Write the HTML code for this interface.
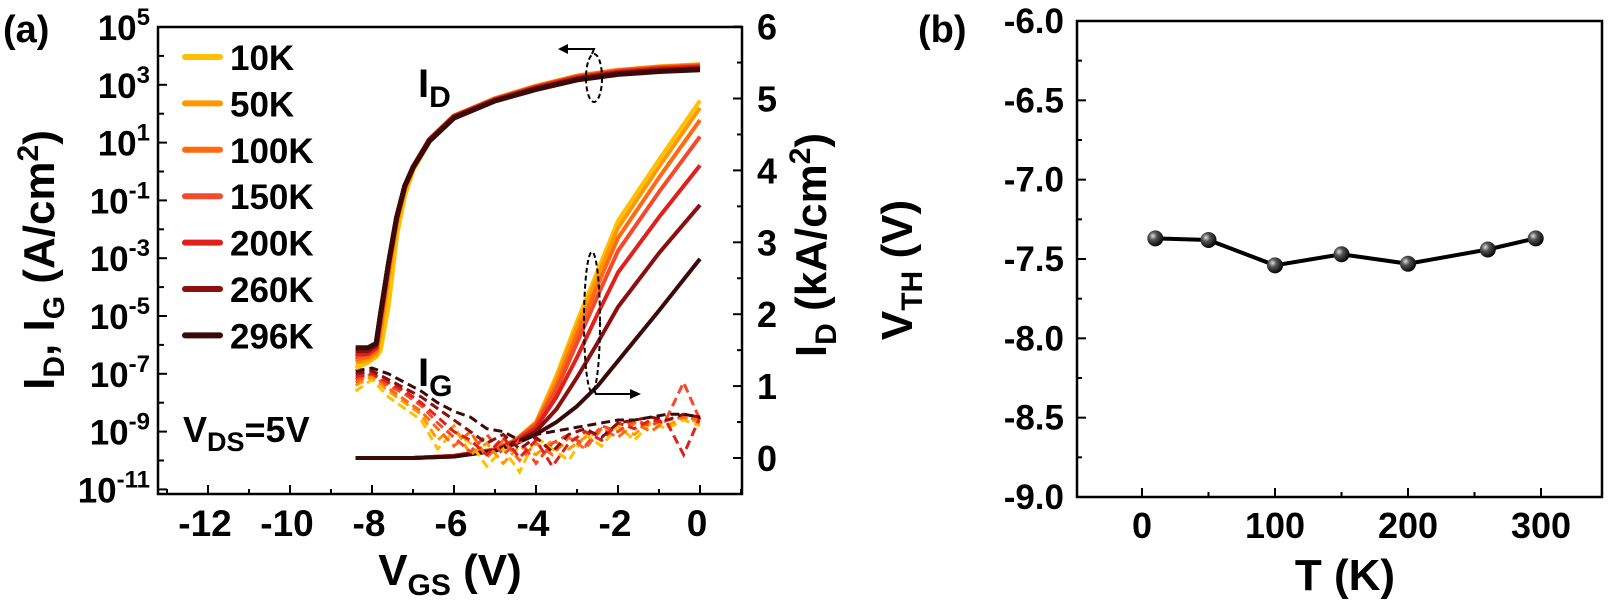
<!DOCTYPE html>
<html><head><meta charset="utf-8"><style>
html,body{margin:0;padding:0;background:#fff;}
svg{display:block;font-family:"Liberation Sans",Arial,sans-serif;font-weight:bold;}
</style></head><body>
<svg id="fig" width="1613" height="611" viewBox="0 0 1613 611" xmlns="http://www.w3.org/2000/svg">
<g id="pa"></g>
<g id="pb"></g>
</svg>
<script>
// ---------- Panel (a) data ----------
const temps = ["10K","50K","100K","150K","200K","260K","296K"];
const colors = ["#FFC000","#FF9800","#FF6A10","#F24A2A","#E0201A","#8B0F0F","#3A0A0A"];
const xTicksA = [-12,-10,-8,-6,-4,-2,0];
const yLogTicks = [5,3,1,-1,-3,-5,-7,-9,-11];
const yLinTicks = [0,1,2,3,4,5,6];
const idLogV = [-8.4,-8.1,-7.9,-7.8,-7.6,-7.4,-7.2,-7.0,-6.6,-6.0,-5.0,-4.0,-3.0,-2.0,-1.0,0];
const idLog10K  = [-6.8,-6.6,-6.4,-6.2,-4.6,-2.2,-0.8,0.05,1.05,1.9,2.52,2.95,3.3,3.5,3.62,3.7];
const idLog50K  = [-6.6,-6.5,-6.3,-5.6,-3.6,-1.8,-0.6,0.1,1.1,1.92,2.52,2.95,3.3,3.5,3.61,3.68];
const idLog100K = [-6.5,-6.4,-6.2,-5.3,-3.4,-1.7,-0.55,0.12,1.1,1.92,2.5,2.93,3.28,3.48,3.6,3.66];
const idLog150K = [-6.4,-6.3,-6.1,-5.2,-3.3,-1.6,-0.5,0.15,1.1,1.9,2.5,2.92,3.26,3.46,3.57,3.64];
const idLog200K = [-6.3,-6.3,-6.1,-5.1,-3.2,-1.6,-0.5,0.15,1.1,1.9,2.48,2.9,3.24,3.44,3.55,3.61];
const idLog260K = [-6.2,-6.2,-6.0,-5.0,-3.2,-1.6,-0.5,0.14,1.08,1.88,2.46,2.87,3.2,3.4,3.5,3.56];
const idLog296K = [-6.1,-6.1,-5.95,-5.0,-3.2,-1.6,-0.5,0.13,1.05,1.85,2.44,2.84,3.17,3.36,3.46,3.52];
const idLog = [idLog10K,idLog50K,idLog100K,idLog150K,idLog200K,idLog260K,idLog296K];
const idLinV = [-8.4,-7,-6,-5,-4.5,-4,-3.5,-3,-2.5,-2,-1,0];
const idLin10K  = [0,0,0.03,0.12,0.25,0.5,1.15,1.9,2.6,3.3,4.15,4.97];
const idLin50K  = [0,0,0.03,0.12,0.25,0.49,1.1,1.83,2.52,3.2,4.05,4.87];
const idLin100K = [0,0,0.03,0.12,0.25,0.48,1.02,1.72,2.4,3.06,3.9,4.7];
const idLin150K = [0,0,0.03,0.12,0.24,0.46,0.95,1.6,2.25,2.88,3.7,4.47];
const idLin200K = [0,0,0.03,0.11,0.23,0.42,0.85,1.4,2.0,2.58,3.35,4.07];
const idLin260K = [0,0,0.02,0.1,0.21,0.37,0.68,1.12,1.6,2.1,2.85,3.52];
const idLin296K = [0,0,0.02,0.1,0.2,0.33,0.5,0.72,1.0,1.35,2.05,2.77];
const idLin = [idLin10K,idLin50K,idLin100K,idLin150K,idLin200K,idLin260K,idLin296K];
const igV = [-8.4,-8.0,-7.6,-7.2,-6.8,-6.4,-6.0,-5.6,-5.2,-4.8,-4.4,-4.0,-3.6,-3.2,-2.8,-2.4,-2.0,-1.6,-1.2,-0.8,-0.4,0];
const ig10K  = [-7.6,-7.2,-7.8,-8.2,-8.6,-9.6,-9.0,-9.4,-10.2,-9.6,-10.4,-9.2,-9.6,-10.0,-9.1,-9.5,-8.8,-9.3,-8.7,-8.9,-8.6,-8.8];
const ig50K  = [-7.4,-7.1,-7.6,-8.0,-8.4,-9.3,-8.8,-9.8,-9.4,-10.1,-9.5,-9.8,-9.3,-9.6,-9.2,-9.0,-8.9,-9.1,-8.6,-8.8,-8.5,-8.7];
const ig100K = [-7.3,-7.0,-7.5,-7.9,-8.3,-8.9,-9.5,-9.0,-9.9,-9.3,-10.0,-9.4,-9.8,-9.2,-9.6,-8.9,-9.2,-8.7,-9.0,-8.6,-8.5,-8.6];
const ig150K = [-7.2,-7.0,-7.4,-7.7,-8.1,-8.7,-9.2,-9.7,-9.1,-9.8,-9.3,-10.1,-9.4,-9.1,-9.5,-8.8,-9.0,-8.6,-8.8,-8.5,-7.3,-8.6];
const ig200K = [-7.1,-7.0,-7.3,-7.6,-8.0,-8.5,-9.0,-9.3,-9.8,-9.2,-9.9,-9.3,-10.2,-9.4,-9.0,-9.3,-8.7,-8.9,-8.6,-8.7,-9.8,-8.5];
const ig260K = [-7.0,-6.9,-7.2,-7.5,-7.8,-8.2,-8.6,-9.0,-9.4,-9.1,-9.6,-9.2,-9.7,-9.1,-8.9,-9.2,-8.7,-8.6,-8.5,-8.6,-8.4,-8.5];
const ig296K = [-6.9,-6.8,-7.0,-7.3,-7.6,-8.0,-8.3,-8.5,-8.9,-9.0,-9.3,-9.1,-9.0,-8.9,-8.8,-8.7,-8.6,-8.6,-8.5,-8.4,-8.4,-8.5];
const ig = [ig10K,ig50K,ig100K,ig150K,ig200K,ig260K,ig296K];
// ---------- Panel (b) data ----------
const tK = [10,50,100,150,200,260,296];
const vth = [-7.37,-7.38,-7.54,-7.47,-7.53,-7.44,-7.37];
const xTicksB = [0,100,200,300];
const yTicksB = [-6.0,-6.5,-7.0,-7.5,-8.0,-8.5,-9.0];

const NS="http://www.w3.org/2000/svg";
function mk(parent,tag,attrs){const e=document.createElementNS(NS,tag);for(const k in attrs)e.setAttribute(k,attrs[k]);parent.appendChild(e);return e;}
function txt(parent,x,y,s,size,anchor){const t=mk(parent,"text",{x:x,y:y,"font-size":size,"text-anchor":anchor||"middle"});t.textContent=s;return t;}

// ---------- Panel (a) ----------
const pa=document.getElementById("pa");
const A={l:158,r:742,t:27,b:494};
const xA=v=>700+v*41;
const yLog=v=>27+(5-v)*28.9;
const yLin=v=>458-v*71.9;
let g;
idLin.forEach((arr,i)=>{
  const p=mk(pa,"polyline",{points:arr.map((v,j)=>xA(idLinV[j])+","+yLin(v)).join(" "),fill:"none",stroke:colors[i],"stroke-width":4,"stroke-linejoin":"round"});
  
  
});
ig.forEach((arr,i)=>{
  const p=mk(pa,"polyline",{points:arr.map((v,j)=>xA(igV[j])+","+yLog(v)).join(" "),fill:"none",stroke:colors[i],"stroke-width":3,"stroke-dasharray":"9,5"});
  
  
});
idLog.forEach((arr,i)=>{
  const p=mk(pa,"polyline",{points:arr.map((v,j)=>xA(idLogV[j])+","+yLog(v)).join(" "),fill:"none",stroke:colors[i],"stroke-width":5,"stroke-linejoin":"round"});
  
  
});
const fa=mk(pa,"rect",{x:A.l,y:A.t,width:A.r-A.l,height:A.b-A.t,fill:"none",stroke:"#000","stroke-width":2.5});


for(let v=-13;v<=1;v++){const x=xA(v);if(x<A.l||x>A.r)continue;const major=v%2===0;mk(pa,"line",{x1:x,x2:x,y1:A.b,y2:A.b-(major?9:5),stroke:"#000","stroke-width":2});}
xTicksA.forEach(v=>{const t=txt(pa,xA(v)-3,536,String(v),37);});
for(let v=-11;v<=5;v++){const y=yLog(v);mk(pa,"line",{x1:A.l,x2:A.l+(v%2!==0?9:6),y1:y,y2:y,stroke:"#000","stroke-width":2});}
yLogTicks.forEach(v=>{
  const t=mk(pa,"text",{x:150,y:yLog(v)+13,"font-size":35,"text-anchor":"end"});
  
  
  t.appendChild(document.createTextNode("10"));
  const s=document.createElementNS(NS,"tspan");s.setAttribute("dy","-15");s.setAttribute("font-size","24");s.textContent=String(v);t.appendChild(s);
});
for(let k=0;k<=12;k++){const v=k/2;const y=yLin(v);mk(pa,"line",{x1:A.r,x2:A.r-(k%2===0?9:5),y1:y,y2:y,stroke:"#000","stroke-width":2});}
yLinTicks.forEach(v=>{const t=txt(pa,767,yLin(v)+13,String(v),36);});
g=mk(pa,"text",{x:0,y:0,"font-size":44,"text-anchor":"middle",transform:"translate(54,260) rotate(-90)"});

g.innerHTML='I<tspan font-size="30" dy="10">D</tspan><tspan dy="-10">, I</tspan><tspan font-size="30" dy="10">G</tspan><tspan dy="-10"> (A/cm</tspan><tspan font-size="30" dy="-16">2</tspan><tspan dy="16">)</tspan>';
g=mk(pa,"text",{x:0,y:0,"font-size":44,"text-anchor":"middle",transform:"translate(826,245) rotate(-90)"});

g.innerHTML='I<tspan font-size="30" dy="10">D</tspan><tspan dy="-10"> (kA/cm</tspan><tspan font-size="30" dy="-16">2</tspan><tspan dy="16">)</tspan>';
g=mk(pa,"text",{x:450,y:585,"font-size":44,"text-anchor":"middle"});

g.innerHTML='V<tspan font-size="30" dy="10">GS</tspan><tspan dy="-10"> (V)</tspan>';
temps.forEach((s,i)=>{
  const y=57+i*46.4;
  const l=mk(pa,"line",{x1:185,x2:220,y1:y,y2:y,stroke:colors[i],"stroke-width":6,"stroke-linecap":"round"});
  
  const t=txt(pa,230,y+13,s,35,"start");
});
g=mk(pa,"text",{x:418,y:97,"font-size":40});
g.innerHTML='I<tspan font-size="30" dy="10">D</tspan>';
g=mk(pa,"text",{x:418,y:386,"font-size":40});
g.innerHTML='I<tspan font-size="30" dy="10">G</tspan>';
g=mk(pa,"text",{x:183,y:442,"font-size":36});
g.innerHTML='V<tspan font-size="27" dy="9">DS</tspan><tspan dy="-9">=5V</tspan>';
g=txt(pa,3,42,"(a)",38,"start");
g=mk(pa,"ellipse",{cx:594,cy:78,rx:8,ry:24,fill:"none",stroke:"#000","stroke-width":2,"stroke-dasharray":"5,3"});
g=mk(pa,"path",{d:"M592,54 L594,49 L566,49",fill:"none",stroke:"#000","stroke-width":2});
mk(pa,"polygon",{points:"558,49 568,44 568,54",fill:"#000"});
g=mk(pa,"ellipse",{cx:592,cy:322,rx:8,ry:70,fill:"none",stroke:"#000","stroke-width":2,"stroke-dasharray":"5,3"});
g=mk(pa,"path",{d:"M594,390 L596,394 L630,394",fill:"none",stroke:"#000","stroke-width":2});
mk(pa,"polygon",{points:"641,394 630,389 630,399",fill:"#000"});

// ---------- Panel (b) ----------
const pb=document.getElementById("pb");
const B={l:1077,r:1602,t:21,b:497};
const xB=v=>1142+v*1.33;
const yB=v=>21+(-6-v)/3*476;
const defs=mk(pb,"defs",{});
const rg=mk(defs,"radialGradient",{id:"ball",cx:"0.35",cy:"0.35",r:"0.7"});
mk(rg,"stop",{offset:"0","stop-color":"#e0e0e0"});
mk(rg,"stop",{offset:"0.35","stop-color":"#555"});
mk(rg,"stop",{offset:"1","stop-color":"#000"});
g=mk(pb,"rect",{x:B.l,y:B.t,width:B.r-B.l,height:B.b-B.t,fill:"none",stroke:"#000","stroke-width":2.5});

for(let v=0;v<=300;v+=50){const x=xB(v);mk(pb,"line",{x1:x,x2:x,y1:B.b,y2:B.b-(v%100===0?9:5),stroke:"#000","stroke-width":2});}
xTicksB.forEach(v=>{const t=txt(pb,xB(v),538,String(v),36);});
for(let k=0;k<=12;k++){const v=-6-k*0.25;const y=yB(v);mk(pb,"line",{x1:B.l,x2:B.l+(k%2===0?9:5),y1:y,y2:y,stroke:"#000","stroke-width":2});}
yTicksB.forEach(v=>{const t=txt(pb,1064,yB(v)+12,v.toFixed(1),35,"end");});
g=mk(pb,"polyline",{points:tK.map((t,i)=>xB(t)+","+yB(vth[i])).join(" "),fill:"none",stroke:"#000","stroke-width":4});

tK.forEach((t,i)=>{
  const c=mk(pb,"circle",{cx:xB(t),cy:yB(vth[i]),r:8,fill:"url(#ball)"});
  
  
});
g=txt(pb,1345,590,"T (K)",44);
g=mk(pb,"text",{x:0,y:0,"font-size":44,"text-anchor":"middle",transform:"translate(912,270) rotate(-90)"});

g.innerHTML='V<tspan font-size="30" dy="10">TH</tspan><tspan dy="-10"> (V)</tspan>';
g=txt(pb,918,42,"(b)",38,"start");
</script>
</body></html>
